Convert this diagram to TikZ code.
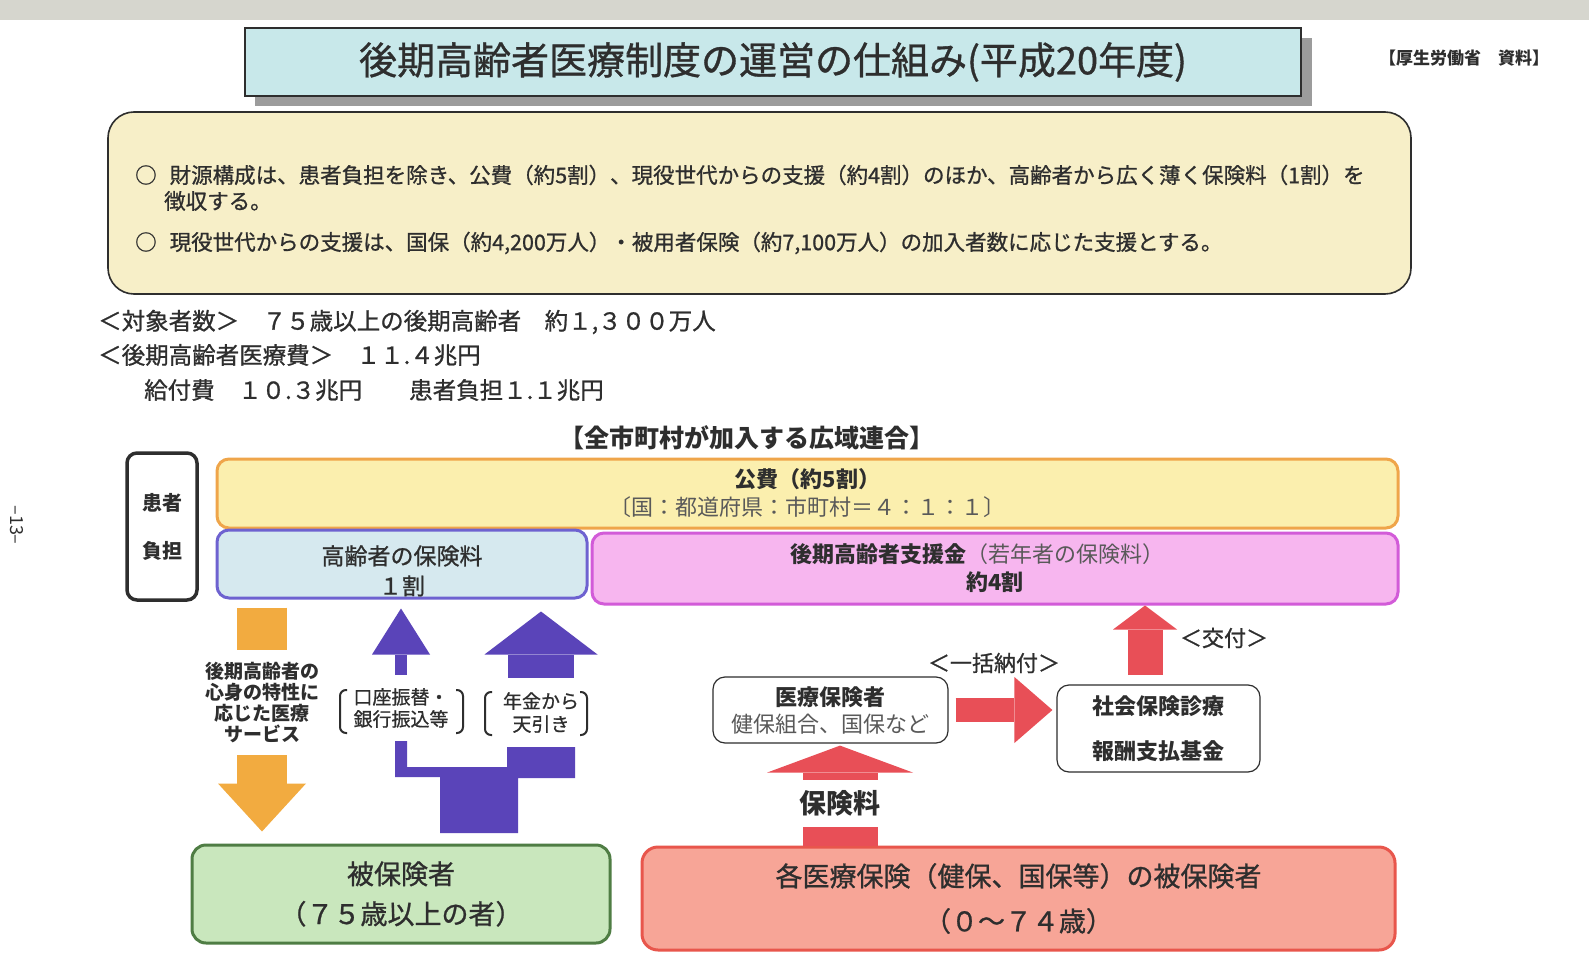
\documentclass[tikz,border=0pt]{standalone}
\usepackage{fontspec}
\setmainfont{Noto Sans CJK JP}
\newfontfamily\medfont{Noto Sans CJK JP}[FakeBold=0.9]
\usetikzlibrary{arrows.meta}

\definecolor{ink}{HTML}{2E2E2E}
\definecolor{softink}{HTML}{595959}
\definecolor{scanband}{HTML}{D6D6CE}
\definecolor{titlefill}{HTML}{C8E8EA}
\definecolor{titleshadow}{HTML}{9C9C9C}
\definecolor{notefill}{HTML}{F7EFC8}
\definecolor{publicfill}{HTML}{FBEFAE}
\definecolor{publicline}{HTML}{EFA54A}
\definecolor{elderfill}{HTML}{D6E9EF}
\definecolor{elderline}{HTML}{6E62D0}
\definecolor{supportfill}{HTML}{F7B6EF}
\definecolor{supportline}{HTML}{D25BD8}
\definecolor{paypurple}{HTML}{5A44B9}
\definecolor{careorange}{HTML}{F2AB40}
\definecolor{flowred}{HTML}{E84F57}
\definecolor{insuredfill}{HTML}{C9E7BD}
\definecolor{insuredline}{HTML}{4F7D44}
\definecolor{memberfill}{HTML}{F7A597}
\definecolor{memberline}{HTML}{E8564C}

\newcommand{\fsz}[2]{\fontsize{#1pt}{#2pt}\selectfont}

\begin{document}
\begin{tikzpicture}[x=1pt, y=-1pt,
  every node/.style={text=ink},
  txt/.style={inner sep=0pt},
  box/.style={rounded corners=12pt, align=center, inner sep=0pt},
  brk/.style={draw=ink, line width=2pt, rounded corners=6pt},
]

% Page and scan edge
\fill[white] (0,0) rectangle (1589,973);
\fill[scanband] (0,0) rectangle (1589,20);
\node[txt, rotate=-90, font=\fsz{18}{18}] (page) at (17,525) {–13–};

% Title
\fill[titleshadow] (255,38) rectangle (1312,106);
\node[box, rounded corners=0pt, draw=ink, line width=1.2pt, fill=titlefill, minimum width=1056pt, minimum height=68pt, font=\medfont\fsz{38}{40}] (title) at (773,62) {後期高齢者医療制度の運営の仕組み(平成20年度)};
\node[txt, font=\bfseries\fsz{17}{19}] (source) at (1464,58) {【厚生労働省　資料】};

% Notes
\node[box, rounded corners=26pt, draw=ink, line width=1.6pt, fill=notefill, minimum width=1303pt, minimum height=182pt] (notes) at (759.5,203) {};
\node[txt, anchor=west, font=\medfont\fsz{21.5}{24}] (aim) at (135,175) {○\hspace{13pt}財源構成は、患者負担を除き、公費（約5割）、現役世代からの支援（約4割）のほか、高齢者から広く薄く保険料（1割）を};
\node[txt, anchor=west, font=\medfont\fsz{21.5}{24}] (aimb) at (164,201) {徴収する。};
\node[txt, anchor=west, font=\medfont\fsz{21.5}{24}] (share) at (135,243) {○\hspace{13pt}現役世代からの支援は、国保（約4,200万人）・被用者保険（約7,100万人）の加入者数に応じた支援とする。};

% Counts
\node[txt, anchor=west, font=\medfont\fsz{23.5}{26}] (count) at (98,322) {＜対象者数＞　７５歳以上の後期高齢者　約１,３００万人};
\node[txt, anchor=west, font=\medfont\fsz{23.5}{26}] (cost) at (98,355) {＜後期高齢者医療費＞　１１.４兆円};
\node[txt, anchor=west, font=\medfont\fsz{23.5}{26}] (costsplit) at (144,390) {給付費　１０.３兆円　　患者負担１.１兆円};
\node[txt, font=\bfseries\fsz{25}{28}] (union) at (747,438) {【全市町村が加入する広域連合】};

% Funding blocks
\node[box, rounded corners=10pt, draw=ink, line width=3.5pt, fill=white, minimum width=70pt, minimum height=147pt, font=\bfseries\fsz{20}{48}] (patient) at (162,526.5) {患者\\負担};
\node[box, draw=publicline, line width=3pt, fill=publicfill, minimum width=1181pt, minimum height=69pt, font=\fsz{22}{28}] (public) at (807.5,493.5) {\textbf{公費（約5割）}\\{\color{softink}〔国：都道府県：市町村＝４：１：１〕}};
\node[box, draw=elderline, line width=3pt, fill=elderfill, minimum width=370pt, minimum height=68pt, font=\medfont\fsz{23}{30}] (elderly) at (402,564) {\rule{0pt}{33pt}高齢者の保険料\\１割};
\node[box, draw=supportline, line width=3pt, fill=supportfill, minimum width=806pt, minimum height=71pt, font=\fsz{22}{28}] (support) at (995,568.5) {\textbf{後期高齢者支援金}{\color{softink}（若年者の保険料）}\hspace*{36pt}\\\textbf{約4割}};

% Insurers and fund
\node[box, draw=ink, line width=1.2pt, fill=white, minimum width=235pt, minimum height=66pt, font=\fsz{22}{27}] (insurer) at (830.5,710) {\textbf{医療保険者}\\{\color{softink}健保組合、国保など}};
\node[box, draw=ink, line width=1.2pt, fill=white, minimum width=203pt, minimum height=87pt, font=\bfseries\fsz{22}{45}] (fund) at (1158.5,728.5) {社会保険診療\\報酬支払基金};

% Insured people
\node[box, rounded corners=14pt, draw=insuredline, line width=3pt, fill=insuredfill, minimum width=418pt, minimum height=98pt, font=\medfont\fsz{27}{40}] (insured) at (401,894) {被保険者\\（７５歳以上の者）};
\node[box, rounded corners=16pt, draw=memberline, line width=3pt, fill=memberfill, minimum width=753pt, minimum height=103pt, font=\medfont\fsz{27}{45}] (members) at (1018.5,898.5) {各医療保険（健保、国保等）の被保険者\\（０～７４歳）};

% Flow labels
\node[txt, align=center, font=\bfseries\fsz{19}{21}, minimum height=105pt] (svc) at (262,702.5) {後期高齢者の\\心身の特性に\\応じた医療\\サービス};
\node[txt, align=center, font=\medfont\fsz{19}{22}, minimum height=66pt] (acct) at (401,708) {口座振替・\\銀行振込等};
\node[txt, align=center, font=\medfont\fsz{19}{23}, minimum height=69pt] (pens) at (541,712.5) {年金から\\天引き};
\node[txt, font=\bfseries\fsz{27}{27}, minimum height=47pt] (prem) at (840,803.5) {保険料};
\node[txt, font=\medfont\fsz{22}{22}] (lump) at (994,663) {＜一括納付＞};
\node[txt, font=\medfont\fsz{22}{22}] (grant) at (1224,638) {＜交付＞};

% Brackets
\draw[brk] (347,690) -- (340,690) -- (340,733) -- (347,733);
\draw[brk] (456,690) -- (463,690) -- (463,733) -- (456,733);
\draw[brk] (492,692) -- (485,692) -- (485,735) -- (492,735);
\draw[brk] (580,692) -- (587,692) -- (587,735) -- (580,735);

% Care flow
\draw[careorange, line width=50pt, shorten <=8pt] (svc.north |- elderly.south) -- (svc.north);
\draw[careorange, line width=50pt, shorten >=12pt, -{Triangle[length=48pt,width=88pt,line width=0pt 0 0]}] (svc.south) -- (svc.south |- insured.north);

% Premium payment
\draw[paypurple, line width=12pt, shorten >=9pt, -{Triangle[length=46pt,width=58pt,line width=0pt 0 0]}] (acct.north) -- (acct.north |- elderly.south);
\draw[paypurple, line width=66pt, shorten >=12pt, -{Triangle[length=43pt,width=113pt,line width=0pt 0 0]}] (pens.north) -- (pens.north |- elderly.south);
\fill[paypurple] (395,741) -- (407,741) -- (407,767) -- (507,767) -- (507,747) -- (575,747) -- (575,778) -- (518,778) -- (518,833) -- (440,833) -- (440,777) -- (395,777) -- cycle;

% Support money
\draw[flowred, line width=75pt] (prem.south |- members.north) -- (prem.south);
\draw[flowred, line width=75pt, shorten >=2pt, -{Triangle[length=27pt,width=146pt,line width=0pt 0 0]}] (prem.north) -- (prem.north |- insurer.south);
\draw[flowred, line width=24pt, shorten <=7pt, shorten >=4pt, -{Triangle[length=38pt,width=66pt,line width=0pt 0 0]}] (insurer.east) -- (insurer.east -| fund.west);
\coordinate (grantfoot) at (1145,675);
\draw[flowred, line width=35pt, -{Triangle[length=24pt,width=64pt,line width=0pt 0 0]}] (grantfoot) -- (grantfoot |- support.south);

\end{tikzpicture}
\end{document}
